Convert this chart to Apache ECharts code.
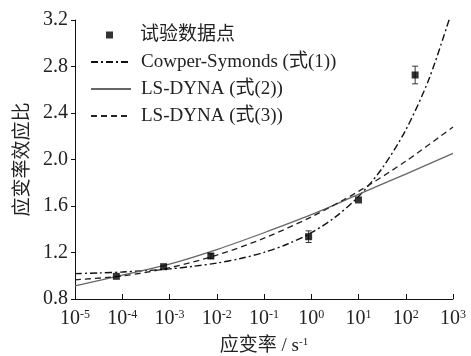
<!DOCTYPE html>
<html>
<head>
<meta charset="utf-8">
<script src="https://cdn.jsdelivr.net/npm/echarts@6/dist/echarts.min.js"></script>
<style>
  html, body { margin: 0; padding: 0; background: #fff; }
  #chart { width: 471px; height: 356px; }
</style>
</head>
<body>
<div id="chart"></div>
<script>
// Test data: strain rate (1/s), dynamic increase ratio, error half-width
const testRate  = [7.5e-5, 7.5e-4, 7.5e-3, 0.88, 10, 158];
const testRatio = [0.995, 1.078, 1.17, 1.336, 1.652, 2.727];
const testErr   = [0, 0, 0.02, 0.05, 0, 0.076];

// Cowper-Symonds curve, sampled every half decade
const csRate  = [1e-5, 3.162e-5, 1e-4, 3.162e-4, 1e-3, 3.162e-3, 1e-2, 3.162e-2,
                 1e-1, 0.3162, 1, 3.162, 10, 31.62, 100, 316.2, 1000];
const csRatio = [1.018, 1.024, 1.032, 1.044, 1.059, 1.081, 1.109, 1.148,
                 1.201, 1.273, 1.370, 1.502, 1.681, 1.924, 2.254, 2.701, 3.308];

// LS-DYNA curves, sampled every decade
const decadeRate = [1e-5, 1e-4, 1e-3, 1e-2, 1e-1, 1, 10, 100, 1000];
const eq2Ratio   = [0.912, 1.005, 1.100, 1.225, 1.370, 1.525, 1.700, 1.875, 2.053];
const eq3Ratio   = [0.965, 0.998, 1.069, 1.177, 1.323, 1.506, 1.726, 1.985, 2.280];

// Axis settings
const xMin = 1e-5, xMax = 1e3;
const yMin = 0.8, yMax = 3.2, yStep = 0.4;

const seriesNames = ['试验数据点', 'Cowper-Symonds (式(1))', 'LS-DYNA (式(2))', 'LS-DYNA (式(3))'];

const serif = "'Liberation Serif', 'Times New Roman', 'Noto Sans CJK SC', serif";
const ink = '#222';

const zip = (a, b) => a.map((v, i) => [v, b[i]]);

const chart = echarts.init(document.getElementById('chart'), null, { renderer: 'canvas' });

const legendText = { fontFamily: serif, fontSize: 19, color: ink, lineHeight: 20 };

chart.setOption({
  animation: false,
  backgroundColor: '#fff',
  textStyle: { fontFamily: serif, color: ink },
  grid: { left: 75, right: 18, top: 20, bottom: 57, containLabel: false, outerBoundsMode: 'none' },
  legend: [
    {
      data: [seriesNames[0]],
      orient: 'vertical',
      left: 106, top: 25, padding: 0,
      itemWidth: 7, itemHeight: 7,
      textStyle: Object.assign({ padding: [0, 0, 0, 22] }, legendText)
    },
    {
      data: seriesNames.slice(1),
      orient: 'vertical',
      left: 90, top: 52, padding: 0,
      itemWidth: 40, itemHeight: 14, itemGap: 7,
      itemStyle: { opacity: 0 },
      textStyle: Object.assign({ padding: [0, 0, 0, 5] }, legendText)
    }
  ],
  xAxis: {
    type: 'log',
    logBase: 10,
    min: xMin, max: xMax,
    interval: 1,
    name: '{n|应变率 / s}{s|-1}',
    nameLocation: 'middle',
    nameGap: 38,
    nameTextStyle: {
      rich: {
        n: { fontFamily: serif, fontSize: 19, color: ink },
        s: { fontFamily: serif, fontSize: 11, color: ink, verticalAlign: 'top' }
      }
    },
    axisLine: { show: true, lineStyle: { color: '#111', width: 1 } },
    axisTick: { show: true, inside: true, length: 5, lineStyle: { color: '#111' } },
    minorTick: { show: false },
    splitLine: { show: false },
    axisLabel: {
      margin: 10,
      formatter: function (v) {
        const e = Math.round(Math.log10(v));
        return '{b|10}{s|' + (e < 0 ? '-' : '') + Math.abs(e) + '}';
      },
      rich: {
        b: { fontFamily: serif, fontSize: 20, color: ink },
        s: { fontFamily: serif, fontSize: 12, color: ink, verticalAlign: 'top' }
      }
    }
  },
  yAxis: {
    type: 'value',
    min: yMin, max: yMax, interval: yStep,
    name: '应变率效应比',
    nameLocation: 'middle',
    nameRotate: 90,
    nameGap: 42,
    nameTextStyle: { fontFamily: serif, fontSize: 19, color: ink },
    axisLine: { show: true, lineStyle: { color: '#111', width: 1 } },
    axisTick: { show: true, inside: false, length: 4, lineStyle: { color: '#111' } },
    splitLine: { show: false },
    axisLabel: {
      margin: 7,
      fontFamily: serif, fontSize: 20, color: ink,
      formatter: v => v.toFixed(1)
    }
  },
  series: [
    {
      name: seriesNames[0],
      type: 'scatter',
      symbol: 'rect',
      symbolSize: 7,
      itemStyle: { color: '#000' },
      data: zip(testRate, testRatio),
      z: 5
    },
    {
      name: 'error',
      type: 'custom',
      data: testRate.map((r, i) => [r, testRatio[i] - testErr[i], testRatio[i] + testErr[i]]),
      encode: { x: 0, y: [1, 2] },
      renderItem: function (params, api) {
        const lo = api.coord([api.value(0), api.value(1)]);
        const hi = api.coord([api.value(0), api.value(2)]);
        if (Math.abs(hi[1] - lo[1]) < 1) return null;
        const cap = 3;
        const style = { stroke: '#333', lineWidth: 1 };
        return {
          type: 'group',
          children: [
            { type: 'line', shape: { x1: lo[0], y1: lo[1], x2: hi[0], y2: hi[1] }, style },
            { type: 'line', shape: { x1: lo[0] - cap, y1: lo[1], x2: lo[0] + cap, y2: lo[1] }, style },
            { type: 'line', shape: { x1: hi[0] - cap, y1: hi[1], x2: hi[0] + cap, y2: hi[1] }, style }
          ]
        };
      },
      z: 4
    },
    {
      name: seriesNames[1],
      type: 'line',
      smooth: 0.3,
      symbol: 'none',
      clip: true,
      lineStyle: { color: '#111', width: 1.4, type: [7, 3, 2, 3] },
      itemStyle: { color: '#111' },
      data: zip(csRate, csRatio)
    },
    {
      name: seriesNames[2],
      type: 'line',
      smooth: 0.3,
      symbol: 'none',
      lineStyle: { color: '#666', width: 1.3, type: 'solid' },
      itemStyle: { color: '#666' },
      data: zip(decadeRate, eq2Ratio)
    },
    {
      name: seriesNames[3],
      type: 'line',
      smooth: 0.3,
      symbol: 'none',
      lineStyle: { color: '#222', width: 1.3, type: [6, 4] },
      itemStyle: { color: '#222' },
      data: zip(decadeRate, eq3Ratio)
    }
  ]
});
</script>
</body>
</html>
